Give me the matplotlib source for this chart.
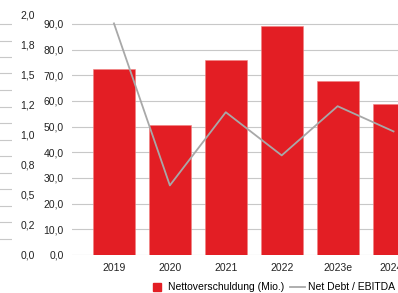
import matplotlib
matplotlib.use("Agg")
import matplotlib.pyplot as plt, numpy as np
from matplotlib.ticker import FuncFormatter
from matplotlib.lines import Line2D

years = ["2019", "2020", "2021", "2022", "2023e", "2024e"]
net_debt = [72.3, 50.6, 76.1, 89.2, 67.9, 58.9]
debt_ebitda = [1.93, 0.58, 1.19, 0.83, 1.24, 1.03]

red = "#e31e24"
gray_line = "#a8a8a8"
grid_c = "#c8c8c8"
plt.rcParams['font.family'] = ['Liberation Sans', 'DejaVu Sans']
plt.rcParams['font.size'] = 7.5

W, H = 398, 293
fig = plt.figure(figsize=(W/100, H/100), dpi=100)

bot, top = (293-255)/H, (293-15)/H
ax = fig.add_axes([72/W, bot, 1 - 72/W, top - bot])
x = np.arange(len(years))
ax.bar(x, net_debt, width=0.75, color=red, edgecolor="#f08080", linewidth=0.4, zorder=2)
ax.set_ylim(0, 93.5)
ax.set_xlim(-0.75, 5.08)
ax.set_yticks(np.arange(0, 91, 10))
ax.yaxis.set_major_formatter(FuncFormatter(lambda v, p: f"{v:.1f}".replace(".", ",")))
ax.grid(axis="y", color=grid_c, linewidth=0.8, zorder=0)
ax.set_xticks(x)
ax.set_xticklabels(years)
ax.tick_params(length=0, pad=6, colors="#222222")
for s in ax.spines.values():
    s.set_visible(False)

ax2 = ax.twinx()
ax2.plot(x, debt_ebitda, color=gray_line, linewidth=1.3, zorder=3)
ax2.set_ylim(0, 2.0)
ax2.set_yticks([])
for s in ax2.spines.values():
    s.set_visible(False)

# left scale for the ratio
axl = fig.add_axes([0, bot, 12/W, top - bot])
axl.set_ylim(0, 2.0)
axl.set_xticks([])
axl.set_yticks(np.arange(0, 2.01, 0.25))
axl.yaxis.set_major_formatter(FuncFormatter(lambda v, p: f"{v:.1f}".replace(".", ",")))
axl.set_yticks(np.linspace(0, 1.925, 15), minor=True)
axl.yaxis.tick_right()
axl.tick_params(axis="y", which="major", length=0, pad=6, colors="#222222")
axl.tick_params(axis="y", which="minor", length=0)
axl.grid(axis="y", which="minor", color=grid_c, linewidth=0.8)
for s in axl.spines.values():
    s.set_visible(False)
axl.patch.set_alpha(0)

handles = [Line2D([], [], marker="s", markersize=5.5, color=red, linestyle="none"),
           Line2D([], [], color=gray_line, linewidth=1.3)]
fig.legend(handles, ["Nettoverschuldung (Mio.)", "Net Debt / EBITDA"],
           loc="lower right", bbox_to_anchor=(1.005, -0.015), ncol=2,
           frameon=False, handlelength=1.4, handletextpad=0.3,
           columnspacing=0.6, borderaxespad=0.1)

fig.savefig("out.png", dpi=100)
